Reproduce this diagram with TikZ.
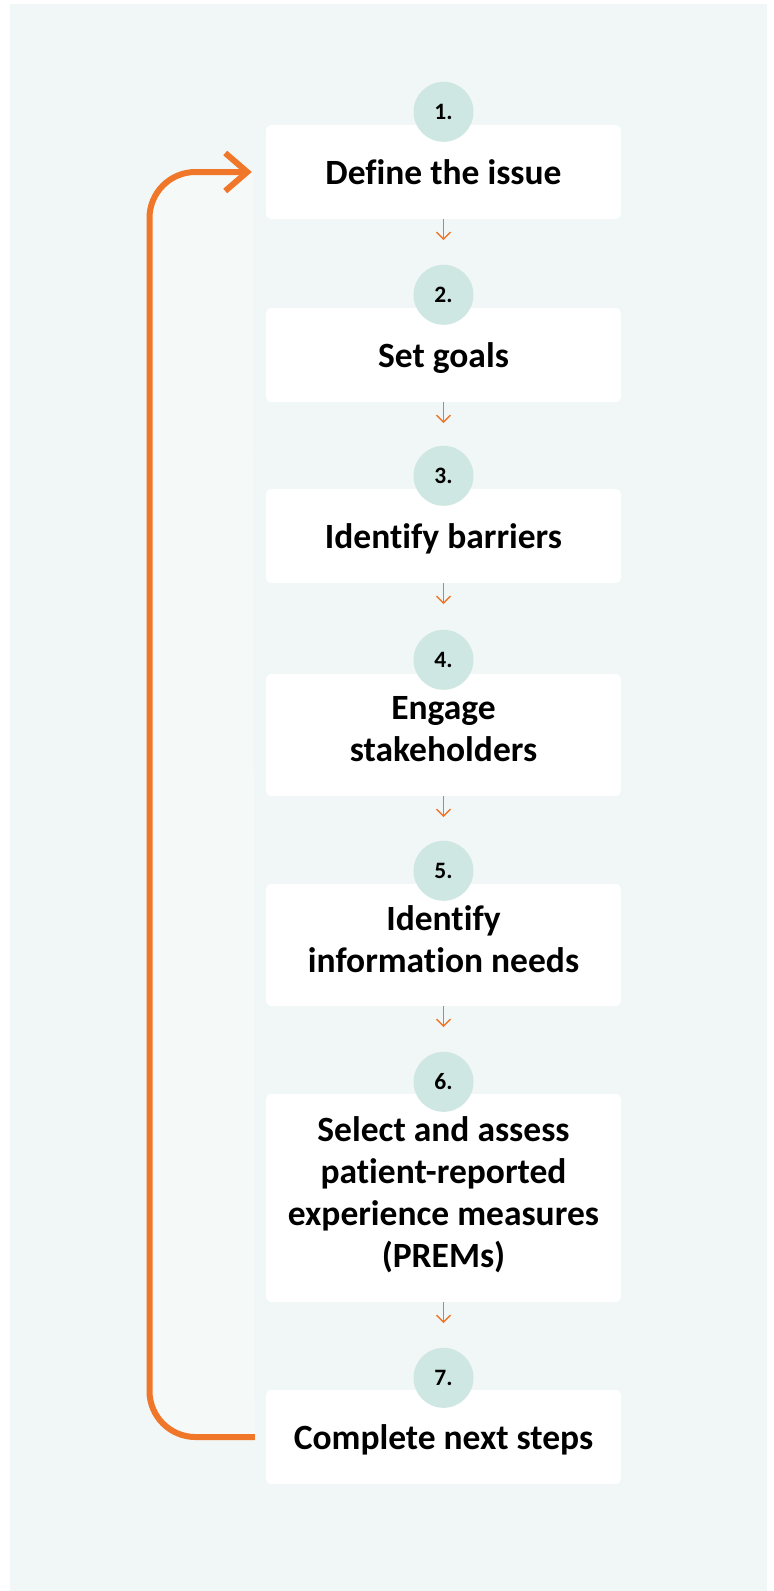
\documentclass[tikz,border=0pt]{standalone}
\usepackage{fontspec}
\setmainfont{Carlito}[Ligatures=CommonOff]
\usetikzlibrary{arrows.meta}
\definecolor{bgc}{HTML}{F1F7F6}
\definecolor{innerc}{HTML}{F5FAF9}
\definecolor{circc}{HTML}{CFE7E2}
\definecolor{orng}{HTML}{F07629}
\begin{document}
\begin{tikzpicture}[x=1pt,y=-1pt,
  stepbox/.style={fill=white, rounded corners=5pt, minimum width=355pt, inner sep=0pt,
    align=center, font=\fontsize{35.5}{42}\selectfont\bfseries,
    execute at begin node={\rule{0pt}{37.5pt}}, execute at end node=\strut},
  numc/.style={circle, fill=circc, minimum size=60pt, inner sep=0pt,
    font=\fontsize{23.5}{26}\selectfont\bfseries},
  smallarr/.style={draw=orng, line width=1.5pt, -{Straight Barb[length=7pt,width=14pt]}},
  loopline/.style={draw=orng, line width=6pt, rounded corners=46pt,
    -{Straight Barb[length=22pt,width=38pt]}}]
\useasboundingbox (0,0) rectangle (774,1591);
\fill[bgc] (10,4) rectangle (767,1591);

% step boxes
\node[stepbox, minimum height=94pt]  (b1) at (443.5,172)  {Define the issue};
\node[stepbox, minimum height=94pt]  (b2) at (443.5,355)  {Set goals};
\node[stepbox, minimum height=94pt]  (b3) at (443.5,536)  {Identify barriers};
\node[stepbox, minimum height=122pt] (b4) at (443.5,735)  {Engage\\stakeholders};
\node[stepbox, minimum height=122pt] (b5) at (443.5,945)  {Identify\\information needs};
\node[stepbox, minimum height=208pt] (b6) at (443.5,1198) {Select and assess\\patient-reported\\experience measures\\(PREMs)};
\node[stepbox, minimum height=94pt]  (b7) at (443.5,1437) {Complete next steps};

% number circles
\node[numc] (n1) at ([yshift=13pt]b1.north) {1.};
\node[numc] (n2) at ([yshift=13pt]b2.north) {2.};
\node[numc] (n3) at ([yshift=13pt]b3.north) {3.};
\node[numc] (n4) at ([yshift=14pt]b4.north) {4.};
\node[numc] (n5) at ([yshift=13pt]b5.north) {5.};
\node[numc] (n6) at ([yshift=12pt]b6.north) {6.};
\node[numc] (n7) at ([yshift=12pt]b7.north) {7.};

% small arrows
\draw[smallarr] (b1.south) -- ([yshift=-21pt]b1.south);
\draw[smallarr] (b2.south) -- ([yshift=-21pt]b2.south);
\draw[smallarr] (b3.south) -- ([yshift=-21pt]b3.south);
\draw[smallarr] (b4.south) -- ([yshift=-21pt]b4.south);
\draw[smallarr] (b5.south) -- ([yshift=-21pt]b5.south);
\draw[smallarr] (b6.south) -- ([yshift=-21pt]b6.south);

% loop back
\coordinate (lx) at (149.5,0);
\fill[innerc, rounded corners=46pt] ([xshift=-13pt]b1.west) -- (b1.west -| lx) -- (b7.west -| lx) -- ([xshift=-11pt]b7.west);
\draw[loopline] ([xshift=-11pt]b7.west) -- (b7.west -| lx) -- (b1.west -| lx) -- ([xshift=-14pt]b1.west);
\end{tikzpicture}
\end{document}
